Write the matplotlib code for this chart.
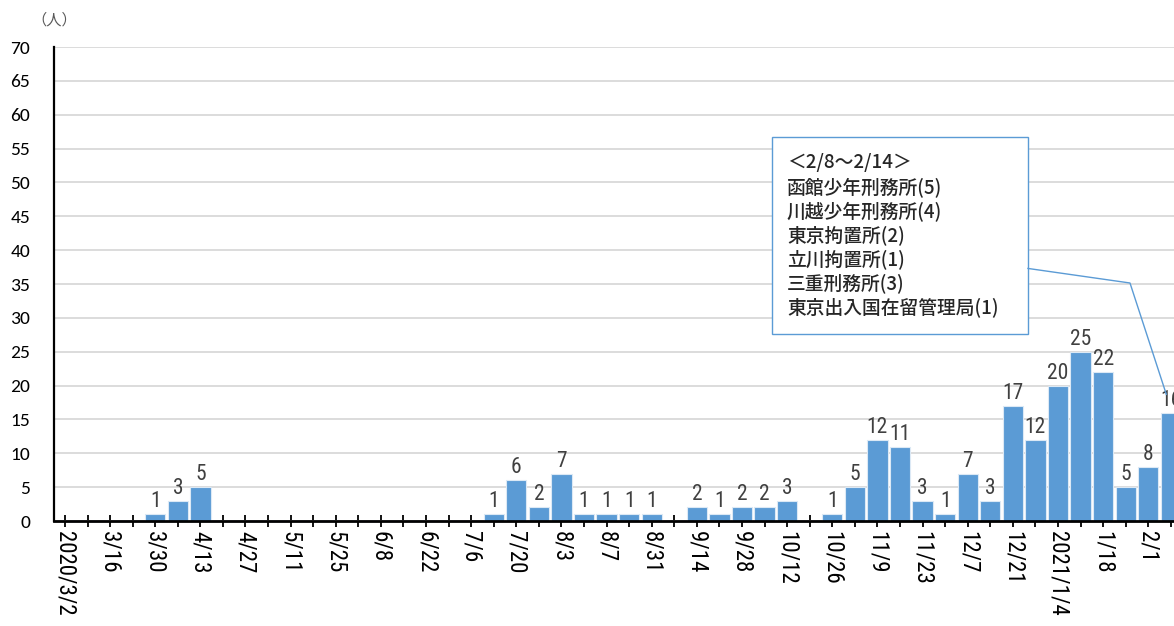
import matplotlib
matplotlib.use("Agg")
import matplotlib.pyplot as plt
from matplotlib.patches import Rectangle
from matplotlib import font_manager

plt.rcParams['font.family'] = ['Noto Sans CJK JP', 'DejaVu Sans']

values = [0, 0, 0, 0, 1, 3, 5, 0, 0, 0,
          0, 0, 0, 0, 0, 0, 0, 0, 0, 1,
          6, 2, 7, 1, 1, 1, 1, 0, 2, 1,
          2, 2, 3, 0, 1, 5, 12, 11, 3, 1,
          7, 3, 17, 12, 20, 25, 22, 5, 8, 16]
tick_labels = ["2020/3/2", "3/16", "3/30", "4/13", "4/27", "5/11", "5/25", "6/8",
               "6/22", "7/6", "7/20", "8/3", "8/7", "8/31", "9/14", "9/28",
               "10/12", "10/26", "11/9", "11/23", "12/7", "12/21", "2021/1/4",
               "1/18", "2/1"]
y_ticks = list(range(0, 75, 5))
note_lines = ["＜2/8～2/14＞", "函館少年刑務所(5)", "川越少年刑務所(4)", "東京拘置所(2)",
              "立川拘置所(1)", "三重刑務所(3)", "東京出入国在留管理局(1)"]

names = {f.name for f in font_manager.fontManager.ttflist}
def pick(cands):
    for c in cands:
        if c in names:
            return c
    return "DejaVu Sans"
narrow = pick(["Roboto Condensed", "Archivo Narrow", "PT Sans Narrow",
               "Liberation Sans Narrow", "Open Sans Condensed", "DejaVu Sans"])
numfont = pick(["Carlito", "Lato", "DejaVu Sans"])

bar_color = "#5B9BD5"
fig = plt.figure(figsize=(11.74, 6.26), dpi=100)
ax = fig.add_axes([0.0457, 0.1677, 0.9543, 0.7572])

x = list(range(len(values)))
ax.bar(x, values, width=0.9, color=bar_color, edgecolor="#DCE9F5", linewidth=0.8, zorder=3)

for xi, v in zip(x, values):
    if v > 0:
        ax.text(xi, v + 0.3, str(v), ha="center", va="bottom", fontsize=15.5,
                family=narrow, color="#404040", zorder=4)

ax.set_xlim(-0.5, 49.14)
ax.set_ylim(0, 70)
ax.set_yticks(y_ticks)
ax.set_yticklabels([str(t) for t in y_ticks], family=numfont, fontsize=14)
ax.tick_params(axis="y", length=0, pad=17)
ax.grid(axis="y", color="#D9D9D9", linewidth=1.3, zorder=0)

ax.set_xticks(x)
ax.set_xticklabels([tick_labels[i // 2] if i % 2 == 0 else "" for i in x],
                   rotation=270, family=narrow, fontsize=16.5, va="top", ha="center")
ax.tick_params(axis="x", direction="inout", length=9, width=1.3, pad=3)

for s in ["top", "right"]:
    ax.spines[s].set_visible(False)
ax.spines["left"].set_linewidth(1.6)
ax.spines["bottom"].set_linewidth(2.0)
ax.spines["bottom"].set_zorder(5)

fig.text(0.027, 0.968, "（人）", fontsize=11, color="#595959", ha="left", va="center")

# annotation box
box = Rectangle((31.32, 27.6), 42.67 - 31.32, 56.7 - 27.6, facecolor="white",
                edgecolor=bar_color, linewidth=1.0, zorder=6)
ax.add_patch(box)
for i, line in enumerate(note_lines):
    ax.text(31.99, 52.9 - i * 3.545, line, fontsize=13.5, color="#262626",
            ha="left", va="center", zorder=7, fontweight="medium",
            family=['Noto Sans CJK JP', 'DejaVu Sans'])
ax.plot([42.67, 47.19, 48.8], [37.3, 35.15, 18.7], color=bar_color,
        linewidth=1.0, zorder=6, clip_on=False)

fig.savefig("out.png", dpi=100)
